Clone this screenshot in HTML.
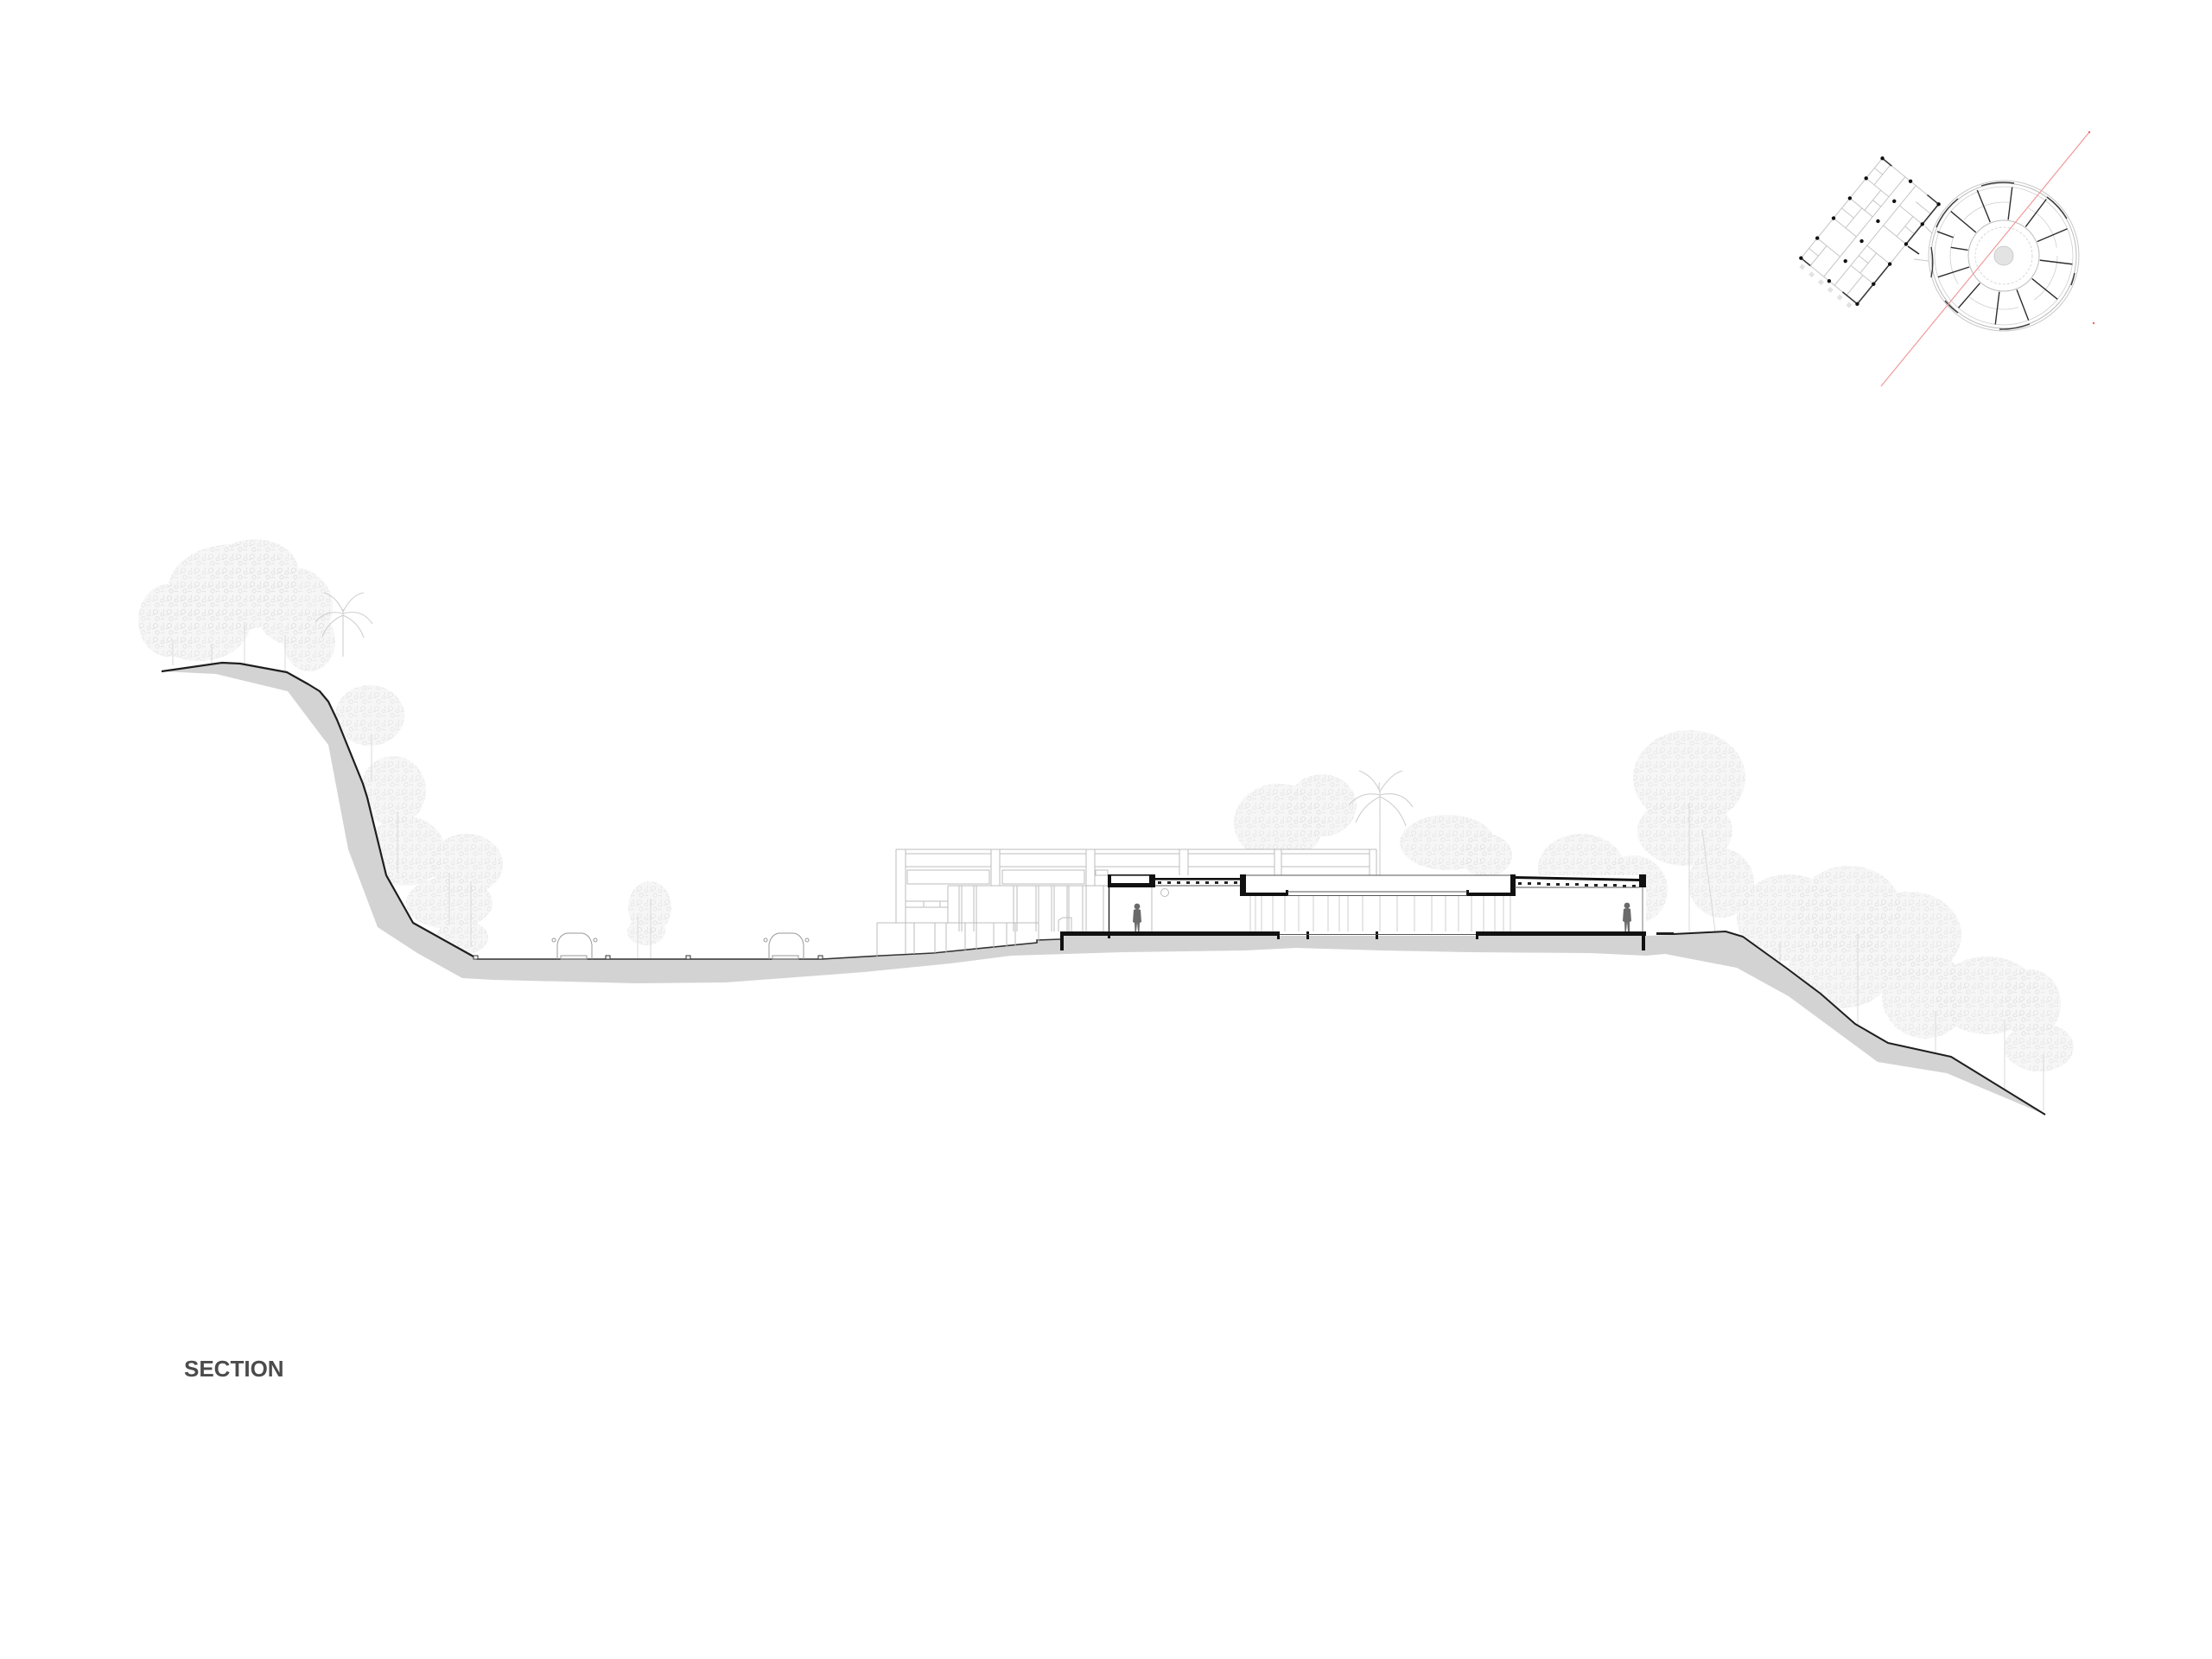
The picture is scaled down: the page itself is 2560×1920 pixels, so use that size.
<!DOCTYPE html>
<html>
<head>
<meta charset="utf-8">
<style>
html,body{margin:0;padding:0;background:#fff;}
body{width:2560px;height:1920px;overflow:hidden;position:relative;}
svg{position:absolute;left:0;top:0;}
</style>
</head>
<body>
<svg width="2560" height="1920" viewBox="0 0 2560 1920" xmlns="http://www.w3.org/2000/svg">
<defs>
  <pattern id="lf" width="16" height="16" patternUnits="userSpaceOnUse">
    <g fill="none" stroke="#dcdcdc" stroke-width="0.55">
      <circle cx="4" cy="4" r="2.5"/>
      <circle cx="12" cy="7" r="2"/>
      <circle cx="6" cy="12" r="2.2"/>
      <path d="M10 13 q2 -2 4 0"/>
      <path d="M0 8 q2 -2 3 0"/>
      <path d="M13 1 q1.5 1.5 0 3"/>
    </g>
  </pattern>
  <g id="tl">
    <!-- left cliff cluster -->
    <ellipse cx="270" cy="680" rx="75" ry="50"/>
    <ellipse cx="230" cy="720" rx="60" ry="45"/>
    <ellipse cx="295" cy="660" rx="50" ry="36"/>
    <ellipse cx="195" cy="718" rx="35" ry="42"/>
    <ellipse cx="340" cy="702" rx="45" ry="45"/>
    <ellipse cx="358" cy="742" rx="30" ry="35"/>
    <ellipse cx="428" cy="828" rx="40" ry="35"/>
    <ellipse cx="455" cy="915" rx="38" ry="40"/>
    <ellipse cx="470" cy="985" rx="45" ry="40"/>
    <ellipse cx="540" cy="1000" rx="42" ry="35"/>
    <ellipse cx="520" cy="1045" rx="50" ry="30"/>
    <ellipse cx="535" cy="1085" rx="30" ry="20"/>
    <!-- road tree -->
    <ellipse cx="752" cy="1050" rx="25" ry="30"/>
    <ellipse cx="748" cy="1078" rx="22" ry="16"/>
    <!-- middle cluster -->
    <ellipse cx="1480" cy="952" rx="52" ry="45"/>
    <ellipse cx="1530" cy="932" rx="40" ry="36"/>
    <ellipse cx="1675" cy="975" rx="55" ry="32"/>
    <ellipse cx="1720" cy="990" rx="30" ry="25"/>
    <!-- right cluster -->
    <ellipse cx="1830" cy="1005" rx="50" ry="40"/>
    <ellipse cx="1955" cy="900" rx="65" ry="55"/>
    <ellipse cx="1950" cy="962" rx="55" ry="40"/>
    <ellipse cx="1890" cy="1030" rx="40" ry="40"/>
    <ellipse cx="1992" cy="1022" rx="38" ry="40"/>
    <ellipse cx="2070" cy="1062" rx="60" ry="50"/>
    <ellipse cx="2140" cy="1052" rx="60" ry="50"/>
    <ellipse cx="2210" cy="1082" rx="60" ry="50"/>
    <ellipse cx="2130" cy="1122" rx="60" ry="45"/>
    <ellipse cx="2228" cy="1152" rx="50" ry="50"/>
    <ellipse cx="2300" cy="1152" rx="60" ry="45"/>
    <ellipse cx="2350" cy="1162" rx="35" ry="40"/>
    <ellipse cx="2360" cy="1212" rx="40" ry="28"/>
  </g>
</defs>

<!-- trees -->
<use href="#tl" fill="#f6f6f6"/>
<use href="#tl" fill="url(#lf)"/>
<g stroke="#dadada" stroke-width="1" fill="none">
  <path d="M200 740 V770 M245 745 V768 M283 720 V768 M330 735 V778"/>
  <path d="M430 850 V905 M460 940 V1010 M520 1010 V1070 M545 1020 V1095"/>
  <path d="M738 1060 V1110 M753 1040 V1110"/>
  <path d="M1955 930 V1078 M1970 960 L1985 1078 M1890 1040 V1080"/>
  <path d="M2060 1090 V1130 M2150 1080 V1195 M2240 1170 V1222 M2320 1180 V1270 M2365 1220 V1285"/>
</g>
<g stroke="#cfcfcf" stroke-width="1.1" fill="none">
  <!-- palms -->
  <path d="M397 760 V705 M397 710 q-20 -5 -32 10 M397 710 q22 -6 34 12 M397 708 q-8 -18 -22 -22 M397 708 q10 -20 24 -22 M397 712 q-18 8 -24 25 M397 712 q18 8 24 26"/>
  <path d="M1597 1013 V915 M1597 920 q-22 -5 -36 12 M1597 920 q25 -6 38 14 M1597 916 q-8 -18 -24 -24 M1597 916 q12 -20 26 -24 M1597 922 q-20 10 -28 30 M1597 922 q22 10 30 34 M1597 918 q-2 -10 0 -12"/>
</g>

<!-- white mask below ground -->
<polygon fill="#fff" points="187,777 257,767 278,768 332,778 357,792 370,800 380,812 390,833 420,907 425,923 447,1013 478,1068 548,1107 553,1110 951,1110 1020,1106 1080,1103 1200,1091 1227,1087 1227,1083 1905,1083 1937,1082 1997,1078 2017,1084 2067,1120 2107,1150 2147,1185 2185,1207 2258,1223 2367,1290 2367,1920 187,1920"/>

<!-- background elevation white backing -->
<rect x="1015" y="983" width="578" height="95" fill="#fff"/>
<rect x="1282" y="1013" width="623" height="65" fill="#fff"/>

<!-- terrain gray band -->
<polygon fill="#d3d3d3" points="187,777 257,767 278,768 332,778 357,792 370,800 380,812 390,833 420,907 425,923 447,1013 478,1068 548,1107 553,1110 951,1110 1020,1106 1080,1103 1200,1091 1200,1088 1227,1087 1227,1083 1905,1083 1937,1082 1997,1078 2017,1084 2067,1120 2107,1150 2147,1185 2185,1207 2258,1223 2367,1290 2253,1242 2173,1229 2070,1153 2010,1120 1927,1104 1905,1106 1840,1103 1700,1102 1600,1100 1500,1097 1440,1100 1300,1102 1170,1106 1100,1115 1000,1125 840,1137 735,1138 571,1134 535,1132 483,1103 437,1073 403,983 380,862 373,853 333,800 250,780 187,777"/>

<!-- ground lines -->
<polyline fill="none" stroke="#1e1e1e" stroke-width="2.2" stroke-linejoin="round" points="187,777 257,767 278,768 332,778 357,792 370,800 380,812 390,833 420,907 425,923 447,1013 478,1068 548,1107 553,1110"/>
<polyline fill="none" stroke="#333" stroke-width="1.6" points="553,1110 951,1110 1020,1106 1080,1103 1200,1091 1200,1088 1227,1087"/>
<polyline fill="none" stroke="#1e1e1e" stroke-width="2" stroke-linejoin="round" points="1937,1081 1997,1078 2017,1084 2067,1120 2107,1150 2147,1185 2185,1207 2258,1223 2367,1290"/>
<rect x="1917" y="1079" width="20" height="3" fill="#1e1e1e"/>
<!-- curbs -->
<g fill="#fff" stroke="#333" stroke-width="1">
  <rect x="548" y="1106" width="5" height="4"/>
  <rect x="701" y="1106" width="5" height="4"/>
  <rect x="794" y="1106" width="5" height="4"/>
  <rect x="947" y="1106" width="5" height="4"/>
</g>
<!-- cars -->
<g fill="none" stroke="#9a9a9a" stroke-width="1">
  <path d="M645 1110 V1093 Q647 1082 656 1080 H674 Q683 1082 685 1093 V1110"/>
  <circle cx="641" cy="1088" r="2"/><circle cx="689" cy="1088" r="2"/>
  <rect x="649" y="1106" width="30" height="4"/>
  <path d="M890 1110 V1093 Q892 1082 901 1080 H919 Q928 1082 930 1093 V1110"/>
  <circle cx="886" cy="1088" r="2"/><circle cx="934" cy="1088" r="2"/>
  <rect x="894" y="1106" width="30" height="4"/>
</g>

<!-- background elevation -->
<g fill="none" stroke="#bcbcbc" stroke-width="1">
  <path d="M1037 983 H1593"/>
  <path d="M1037 983 V1068 M1048 983 V1068"/>
  <path d="M1147 983 V1025 M1157 983 V1025 M1257 983 V1025 M1267 983 V1025"/>
  <path d="M1365 983 V1013 M1375 983 V1013 M1475 983 V1013 M1483 983 V1013 M1585 983 V1013 M1593 983 V1013"/>
  <rect x="1048" y="988" width="99" height="15"/>
  <rect x="1157" y="988" width="100" height="15"/>
  <rect x="1267" y="988" width="98" height="15"/>
  <rect x="1375" y="988" width="100" height="15"/>
  <rect x="1483" y="988" width="102" height="15"/>
  <rect x="1050" y="1007" width="95" height="16"/>
  <rect x="1160" y="1007" width="95" height="16"/>
  <rect x="1268" y="1007" width="14" height="6"/>
  <rect x="1048" y="1043" width="49" height="7"/>
  <path d="M1069 1043 V1050 M1088 1043 V1050"/>
  <path d="M1097 1025 H1282 M1097 1025 V1068"/>
  <path d="M1110 1025 V1078 M1113 1025 V1078 M1127 1025 V1078 M1130 1025 V1078 M1173 1025 V1078 M1177 1025 V1078 M1199 1025 V1078 M1202 1025 V1078 M1217 1025 V1078 M1220 1025 V1078 M1235 1025 V1078 M1237 1025 V1078 M1253 1025 V1078 M1257 1025 V1078 M1277 1025 V1078"/>
  <path d="M1015 1068 H1202 M1015 1068 V1107 M1202 1068 V1091"/>
  <path d="M1048 1068 V1104 M1058 1068 V1104 M1082 1068 V1103 M1095 1068 V1103 M1117 1068 V1101 M1130 1068 V1100 M1150 1068 V1098 M1165 1068 V1096 M1175 1068 V1095"/>
  <path d="M1225 1078 V1065 L1230 1062 H1240 V1078"/>
</g>

<!-- curtain wall -->
<g stroke="#cfcfcf" stroke-width="1">
  <path d="M1447 1037 V1078 M1453 1037 V1078 M1460 1037 V1078 M1473 1037 V1078 M1487 1037 V1078 M1503 1037 V1078 M1520 1037 V1078 M1537 1037 V1078 M1550 1037 V1078 M1560 1037 V1078 M1577 1037 V1078 M1597 1037 V1078 M1617 1037 V1078 M1637 1037 V1078 M1657 1037 V1078 M1673 1037 V1078 M1688 1037 V1078 M1703 1037 V1078 M1717 1037 V1078 M1730 1037 V1078 M1740 1037 V1078 M1748 1037 V1078"/>
  <path d="M1333 1027 V1078" stroke="#bbb"/>
</g>
<circle cx="1348" cy="1033" r="4.5" fill="none" stroke="#bbb" stroke-width="1"/>

<!-- building section cut -->
<g fill="#111">
  <rect x="1282" y="1012" width="4" height="15"/>
  <rect x="1282" y="1012" width="55" height="1.6"/>
  <rect x="1282" y="1022" width="55" height="5"/>
  <rect x="1330" y="1012" width="7" height="15"/>
  <rect x="1337" y="1016" width="98" height="2.6"/>
  <rect x="1435" y="1012" width="7" height="25"/>
  <rect x="1435" y="1033" width="55" height="4"/>
  <rect x="1488" y="1030" width="3" height="7"/>
  <rect x="1698" y="1033" width="55" height="4"/>
  <rect x="1697" y="1030" width="3" height="7"/>
  <rect x="1748" y="1012" width="6" height="25"/>
  <rect x="1897" y="1012" width="8" height="15"/>
  <rect x="1227" y="1078" width="254" height="5"/>
  <rect x="1478" y="1083" width="3" height="4"/>
  <rect x="1282" y="1083" width="3" height="3"/>
  <rect x="1512" y="1078" width="3" height="9"/>
  <rect x="1592" y="1078" width="3" height="9"/>
  <rect x="1708" y="1078" width="197" height="5"/>
  <rect x="1708" y="1083" width="3" height="4"/>
  <rect x="1227" y="1078" width="4" height="22"/>
  <rect x="1900" y="1078" width="4" height="22"/>
</g>
<polygon fill="#111" points="1753,1014 1897,1017 1897,1020 1753,1017"/>
<g fill="#222">
  <rect x="1340" y="1020" width="4" height="3"/><rect x="1351" y="1020" width="4" height="3"/><rect x="1362" y="1020" width="4" height="3"/><rect x="1373" y="1020" width="4" height="3"/><rect x="1384" y="1020" width="4" height="3"/><rect x="1395" y="1020" width="4" height="3"/><rect x="1406" y="1020" width="4" height="3"/><rect x="1417" y="1020" width="4" height="3"/><rect x="1428" y="1020" width="4" height="3"/>
  <rect x="1757" y="1021" width="4" height="3"/><rect x="1768" y="1021" width="4" height="3"/><rect x="1779" y="1021" width="4" height="3"/><rect x="1790" y="1022" width="4" height="3"/><rect x="1801" y="1022" width="4" height="3"/><rect x="1812" y="1022" width="4" height="3"/><rect x="1823" y="1022" width="4" height="3"/><rect x="1834" y="1023" width="4" height="3"/><rect x="1845" y="1023" width="4" height="3"/><rect x="1856" y="1023" width="4" height="3"/><rect x="1867" y="1023" width="4" height="3"/><rect x="1878" y="1024" width="4" height="3"/><rect x="1889" y="1024" width="4" height="3"/>
</g>
<g fill="none" stroke="#555" stroke-width="1">
  <path d="M1337 1025 H1435"/>
  <path d="M1753 1027 H1897"/>
  <path d="M1442 1013 H1748"/>
  <path d="M1490 1032 H1698 M1490 1036.5 H1698"/>
  <path d="M1481 1081.5 H1708"/>
</g>
<path d="M1283.5 1027 V1078" stroke="#222" stroke-width="1.4"/>
<path d="M1901 1027 V1078" stroke="#777" stroke-width="1"/>

<!-- people -->
<g fill="#6a6a6a">
  <circle cx="1316" cy="1049" r="3.4"/>
  <path d="M1312 1053 Q1316 1051 1320 1053 L1321 1067 L1319 1068 L1318.5 1078 L1317 1078 L1316 1068 L1315 1078 L1313.5 1078 L1313 1068 L1311 1067 Z"/>
  <circle cx="1883" cy="1048" r="3.4"/>
  <path d="M1879 1052 Q1883 1050 1887 1052 L1888 1066 L1886 1067 L1886 1078 L1884 1078 L1883 1067 L1882 1078 L1880.5 1078 L1880 1067 L1878 1066 Z"/>
</g>

<!-- key plan: rectangular wing -->
<g transform="translate(2164 267.5) rotate(39.2)">
  <rect x="-42" y="-74.5" width="84" height="149" fill="none" stroke="#c4c4c4" stroke-width="1"/>
  <g stroke="#c0c0c0" stroke-width="0.9" fill="none">
    <path d="M-8 -74.5 V74.5 M8 -74.5 V74.5"/>
    <path d="M-42 -44.7 H-8 M-42 -14.9 H-8 M-42 14.9 H-8 M-42 44.7 H-8"/>
    <path d="M8 -44.7 H42 M8 -14.9 H42 M8 14.9 H42 M8 44.7 H42"/>
    <path d="M-30 -74.5 V-44.7 M-24 -14.9 V14.9 M28 -44.7 V-14.9 M22 14.9 V44.7 M-28 44.7 V74.5 M-20 -44.7 V-14.9 M26 44.7 V74.5"/>
    <path d="M-42 -60 H-30 M20 -60 H42 M-42 0 H-24 M28 -30 H42 M8 30 H22 M-42 60 H-28 M-20 -30 H-8"/>
  </g>
  <g stroke="#3a3a3a" stroke-width="1.6">
    <path d="M42 -74.5 V-16 M42 15 V74.5"/>
    <path d="M-42 -74.5 H-28 M25 -74.5 H42"/>
    <path d="M-42 74.5 H-28 M20 74.5 H42"/>
  </g>
  <g fill="#111">
    <circle cx="-42" cy="-74.5" r="2.2"/><circle cx="-42" cy="-44.7" r="2.2"/><circle cx="-42" cy="-14.9" r="2.2"/><circle cx="-42" cy="14.9" r="2.2"/><circle cx="-42" cy="44.7" r="2.2"/><circle cx="-42" cy="74.5" r="2.2"/>
    <circle cx="0" cy="-74.5" r="2.2"/><circle cx="0" cy="-44.7" r="2.2"/><circle cx="0" cy="-14.9" r="2.2"/><circle cx="0" cy="14.9" r="2.2"/><circle cx="0" cy="44.7" r="2.2"/><circle cx="0" cy="74.5" r="2.2"/>
    <circle cx="42" cy="-74.5" r="2.2"/><circle cx="42" cy="-44.7" r="2.2"/><circle cx="42" cy="-14.9" r="2.2"/><circle cx="42" cy="14.9" r="2.2"/><circle cx="42" cy="44.7" r="2.2"/><circle cx="42" cy="74.5" r="2.2"/>
  </g>
  <g fill="#e2e2e2">
    <rect x="-37" y="79" width="5" height="5"/><rect x="-23" y="79" width="5" height="5"/><rect x="-9" y="79" width="5" height="5"/><rect x="5" y="79" width="5" height="5"/><rect x="19" y="79" width="5" height="5"/><rect x="33" y="79" width="5" height="5"/>
  </g>
</g>
<path d="M2208 285 L2221 294" stroke="#222" stroke-width="1.6"/>
<path d="M2228 262 L2236 270 M2215 300 L2232 302" stroke="#c8c8c8" stroke-width="1"/>

<!-- key plan: circular building -->
<g transform="translate(2319 296)" fill="none">
  <circle r="87" stroke="#c8c8c8" stroke-width="1"/>
  <circle r="84" stroke="#bdbdbd" stroke-width="1"/>
  <circle r="80" stroke="#cfcfcf" stroke-width="0.8"/>
  <circle r="62" stroke="#cfcfcf" stroke-width="0.8" stroke-dasharray="60 20"/>
  <circle r="41" stroke="#bdbdbd" stroke-width="1"/>
  <circle r="33" stroke="#d0d0d0" stroke-width="0.8" stroke-dasharray="3 2"/>
  <circle r="11" fill="#e3e3e3" stroke="#c4c4c4" stroke-width="0.8"/>
  <g stroke="#2e2e2e" stroke-width="1.4">
    <path d="M42 0 H80" transform="rotate(7)"/>
    <path d="M42 0 H80" transform="rotate(39)"/>
    <path d="M42 0 H80" transform="rotate(69)"/>
    <path d="M42 0 H80" transform="rotate(97)"/>
    <path d="M42 0 H80" transform="rotate(131)"/>
    <path d="M42 0 H80" transform="rotate(162)"/>
    <path d="M42 0 H62" transform="rotate(189)"/>
    <path d="M62 0 H82" transform="rotate(200)"/>
    <path d="M42 0 H80" transform="rotate(220)"/>
    <path d="M42 0 H82" transform="rotate(248)"/>
    <path d="M42 0 H80" transform="rotate(277)"/>
    <path d="M42 0 H82" transform="rotate(307)"/>
    <path d="M42 0 H80" transform="rotate(337)"/>
  </g>
  <g stroke="#3a3a3a" stroke-width="1.4">
    <path d="M-78 -33 A85 85 0 0 1 -53 -66"/>
    <path d="M-26 -81 A85 85 0 0 1 12 -84"/>
    <path d="M50 -68 A85 85 0 0 1 73 -43"/>
    <path d="M82 20 A85 85 0 0 1 78 34"/>
    <path d="M30 79 A85 85 0 0 1 -5 85"/>
    <path d="M-53 66 A85 85 0 0 1 -68 52"/>
    <path d="M-84 -10 A85 85 0 0 1 -84 25"/>
  </g>
</g>
<!-- section cut line -->
<path d="M2418 153 L2177 447" stroke="#f19a9a" stroke-width="1.2"/>
<circle cx="2418" cy="153" r="1.2" fill="#e66"/>
<circle cx="2423" cy="374" r="1.2" fill="#e66"/>

<!-- label -->
<text x="213" y="1593" font-family="'Liberation Sans', sans-serif" font-weight="bold" font-size="26" fill="#4b4b4b">SECTION</text>
</svg>
</body>
</html>
